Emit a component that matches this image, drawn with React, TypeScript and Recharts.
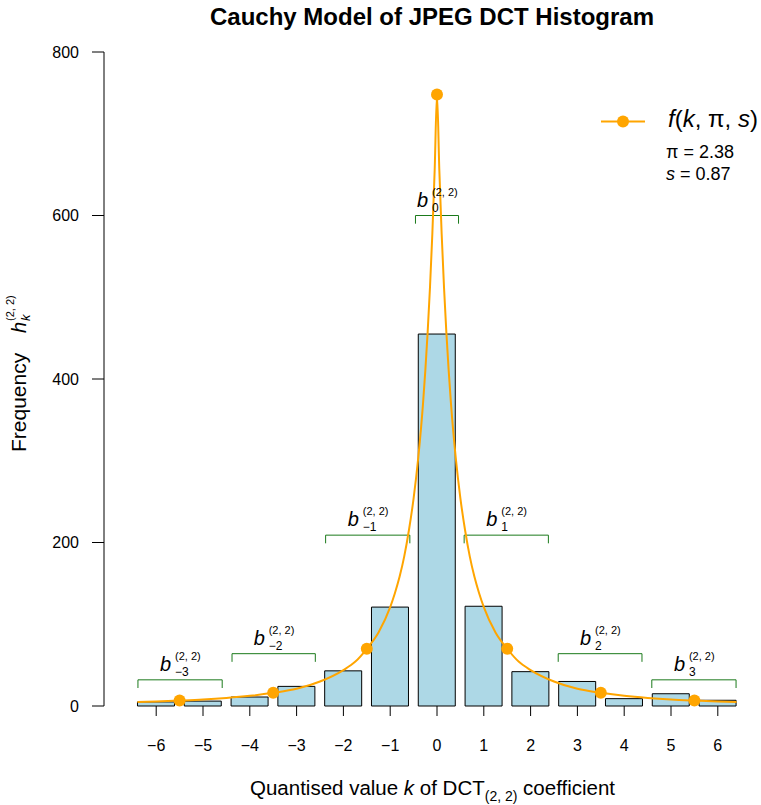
import React from "react";
import {
  Bar,
  ComposedChart,
  Line,
  ReferenceDot,
  ReferenceLine,
  XAxis,
  YAxis,
} from "recharts";

// histogram of quantised DCT(2,2) values
const categories = [-6, -5, -4, -3, -2, -1, 0, 1, 2, 3, 4, 5, 6];
const counts = [5, 6, 11, 24, 43, 121, 455, 122, 42, 30, 9, 15, 7];

// fitted Cauchy curve
const curveK = [
  -6.4, -6, -5.5, -5, -4.5, -4, -3.5, -3, -2.5, -2, -1.75, -1.5, -1.25, -1,
  -0.9, -0.8, -0.7, -0.6, -0.5, -0.4, -0.3, -0.25, -0.2, -0.15, -0.1, -0.05, 0,
  0.05, 0.1, 0.15, 0.2, 0.25, 0.3, 0.4, 0.5, 0.6, 0.7, 0.8, 0.9, 1, 1.25, 1.5,
  1.75, 2, 2.5, 3, 3.5, 4, 4.5, 5, 5.5, 6, 6.4,
];
const curveF = [
  4.8, 5.5, 6.6, 7.9, 9.8, 12.4, 16.1, 21, 30, 44, 54, 70, 90, 121, 138, 158,
  183, 215, 254, 304, 369, 410, 457, 512, 577, 655, 748, 655, 577, 512, 457, 410,
  369, 304, 254, 215, 183, 158, 138, 121, 90, 70, 54, 44, 30, 21, 16.1, 12.4,
  9.8, 7.9, 6.6, 5.5, 4.8,
];

// marked points on the curve
const pointK = [-5.5, -3.5, -1.5, 0, 1.5, 3.5, 5.5];
const pointF = [6.6, 16.1, 70, 748, 70, 16.1, 6.6];

// b_k brackets
const bracketIndex = [-3, -2, -1, 0, 1, 2, 3];
const bracketFrom = [-6.39, -4.38, -2.38, -0.46, 0.58, 2.59, 4.59];
const bracketTo = [-4.59, -2.6, -0.58, 0.46, 2.38, 4.38, 6.39];
const bracketLevel = [32, 64, 209, 600, 209, 64, 32];
const bracketDrop = 10;

const yTicks = [0, 200, 400, 600, 800];

const ORANGE = "#FFA500";
const GREEN = "#1b7a1b";
const FONT = "'Liberation Sans', Arial, Helvetica, sans-serif";

const barData = categories.map((k, i) => ({ k, count: counts[i] }));
const curveData = curveK.map((k, i) => ({ k, f: curveF[i] }));
const pointData = pointK.map((k, i) => ({ k, f: pointF[i] }));

const signed = (v: number) => (v < 0 ? `\u2212${-v}` : `${v}`);

const BracketLabel = ({ cx, cy, idx }: { cx: number; cy: number; idx: number }) => (
  <g fontFamily={FONT} fill="#000">
    <text x={cx - 20} y={cy - 9} fontSize={20} fontStyle="italic">
      b
    </text>
    <text x={cx - 5} y={cy - 20} fontSize={11}>
      (2, 2)
    </text>
    <text x={cx - 5} y={cy - 4} fontSize={12}>
      {signed(idx)}
    </text>
  </g>
);

export default function App() {
  return (
    <div
      style={{
        position: "absolute",
        left: 0,
        top: 0,
        width: 761,
        height: 805,
        background: "#fff",
      }}
    >
      <ComposedChart
        width={761}
        height={805}
        data={barData}
        margin={{ top: 52, right: 19.8, bottom: 49, left: 44 }}
        barCategoryGap="10%"
      >
        <XAxis
          xAxisId="cat"
          dataKey="k"
          type="category"
          interval={0}
          tickFormatter={signed}
          axisLine={false}
          tickSize={10}
          tickMargin={24}
          stroke="#000"
          tick={{ fill: "#000", fontSize: 16, fontFamily: FONT }}
          padding={{ left: 28.8, right: 0 }}
          height={50}
        />
        <XAxis
          xAxisId="num"
          dataKey="k"
          type="number"
          domain={[-6.5, 6.5]}
          padding={{ left: 28.8, right: 0 }}
          allowDataOverflow
          hide
        />
        <YAxis
          domain={[0, 800]}
          ticks={yTicks}
          interval={0}
          width={60}
          tickSize={12}
          tickMargin={13}
          stroke="#000"
          tick={{ fill: "#000", fontSize: 16, fontFamily: FONT }}
        />
        <Bar
          xAxisId="cat"
          dataKey="count"
          fill="#ADD8E6"
          stroke="#000"
          strokeWidth={1}
          isAnimationActive={false}
        />
        {bracketIndex.map((b, i) => (
          <React.Fragment key={`br-${b}`}>
            <ReferenceLine
              xAxisId="num"
              stroke={GREEN}
              strokeWidth={1}
              segment={[
                { x: bracketFrom[i], y: bracketLevel[i] },
                { x: bracketTo[i], y: bracketLevel[i] },
              ]}
            />
            <ReferenceLine
              xAxisId="num"
              stroke={GREEN}
              strokeWidth={1}
              segment={[
                { x: bracketFrom[i], y: bracketLevel[i] },
                { x: bracketFrom[i], y: bracketLevel[i] - bracketDrop },
              ]}
            />
            <ReferenceLine
              xAxisId="num"
              stroke={GREEN}
              strokeWidth={1}
              segment={[
                { x: bracketTo[i], y: bracketLevel[i] },
                { x: bracketTo[i], y: bracketLevel[i] - bracketDrop },
              ]}
            />
            <ReferenceDot
              xAxisId="num"
              x={(bracketFrom[i] + bracketTo[i]) / 2}
              y={bracketLevel[i]}
              shape={(p: any) => <BracketLabel cx={p.cx} cy={p.cy} idx={b} />}
            />
          </React.Fragment>
        ))}
        <Line
          xAxisId="num"
          data={curveData}
          dataKey="f"
          type="monotone"
          stroke={ORANGE}
          strokeWidth={2}
          dot={false}
          isAnimationActive={false}
        />
        <Line
          xAxisId="num"
          data={pointData}
          dataKey="f"
          stroke="none"
          dot={{ r: 6, fill: ORANGE, stroke: "none" }}
          isAnimationActive={false}
        />
      </ComposedChart>
      <svg
        width={761}
        height={805}
        style={{ position: "absolute", left: 0, top: 0, pointerEvents: "none" }}
        fontFamily={FONT}
      >
        <text x={432} y={24.5} textAnchor="middle" fontWeight="bold" fontSize={24}>
          Cauchy Model of JPEG DCT Histogram
        </text>
        <text x={250} y={795} fontSize={20.5}>
          Quantised value <tspan fontStyle="italic">k</tspan> of DCT
          <tspan fontSize={14} dy={6}>
            (2, 2)
          </tspan>
          <tspan dy={-6}> coefficient</tspan>
        </text>
        <g transform="translate(26,452) rotate(-90)">
          <text x={0} y={0} fontSize={21}>
            Frequency
          </text>
          <text x={119} y={0} fontSize={20} fontStyle="italic">
            h
          </text>
          <text x={131} y={4} fontSize={13} fontStyle="italic">
            k
          </text>
          <text x={131} y={-12} fontSize={11}>
            (2, 2)
          </text>
        </g>
        <line x1={601} x2={645} y1={121.5} y2={121.5} stroke={ORANGE} strokeWidth={2} />
        <circle cx={623} cy={121.5} r={6} fill={ORANGE} />
        <text x={668} y={127} fontSize={24}>
          <tspan fontStyle="italic">f</tspan>(<tspan fontStyle="italic">k</tspan>, π,{" "}
          <tspan fontStyle="italic">s</tspan>)
        </text>
        <text x={666} y={158} fontSize={18}>
          π = 2.38
        </text>
        <text x={666} y={180} fontSize={18}>
          <tspan fontStyle="italic">s</tspan> = 0.87
        </text>
      </svg>
    </div>
  );
}
